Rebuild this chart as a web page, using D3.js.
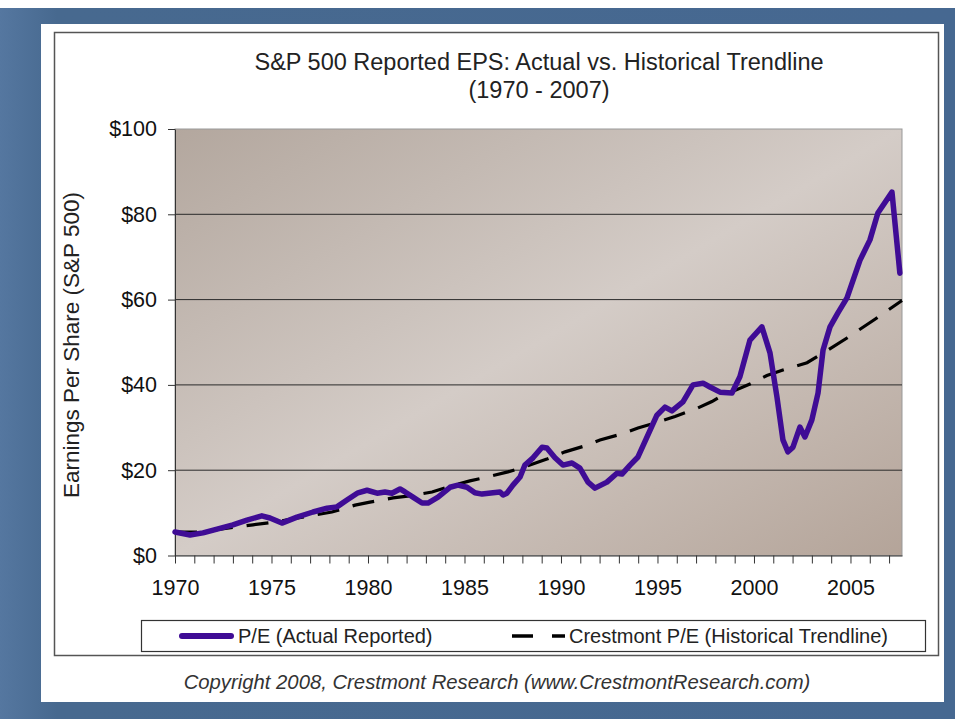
<!DOCTYPE html>
<html lang="en">
<head>
<meta charset="utf-8">
<title>S&amp;P 500 Reported EPS</title>
<script src="https://d3js.org/d3.v7.min.js"></script>
<style>
  body { margin: 0; background: #fff; }
  svg text { font-family: "Liberation Sans", Arial, sans-serif; }
</style>
</head>
<body>
<script>
// Width and height
var w = 955;
var h = 719;

// Reported EPS (year, dollars)
var epsYears = [1970.0, 1970.78, 1971.45, 1972.18, 1973.0, 1973.73, 1974.5, 1974.92, 1975.54, 1976.32,
  1977.15, 1977.88, 1978.39, 1978.91, 1979.48, 1979.95, 1980.47, 1980.88, 1981.24, 1981.66,
  1981.92, 1982.33, 1982.8, 1983.11, 1983.63, 1984.25, 1984.66, 1985.13, 1985.54, 1985.91,
  1986.48, 1986.84, 1987.0, 1987.2, 1987.51, 1987.88, 1988.13, 1988.55, 1989.02, 1989.27,
  1989.69, 1990.1, 1990.57, 1990.98, 1991.4, 1991.76, 1992.38, 1992.9, 1993.16, 1993.58,
  1993.99, 1994.46, 1994.97, 1995.39, 1995.75, 1996.32, 1996.84, 1997.36, 1997.72, 1998.24,
  1998.86, 1999.27, 1999.79, 2000.41, 2000.83, 2001.19, 2001.5, 2001.76, 2002.02, 2002.38,
  2002.64, 2003.0, 2003.32, 2003.58, 2003.94, 2004.35, 2004.82, 2005.49, 2006.01, 2006.42,
  2007.15, 2007.56];
var epsValues = [5.5, 4.8, 5.3, 6.2, 7.2, 8.3, 9.3, 8.8, 7.6, 9.0,
  10.2, 11.1, 11.4, 13.0, 14.7, 15.3, 14.6, 14.9, 14.6, 15.6,
  14.9, 13.7, 12.3, 12.3, 13.7, 16.0, 16.5, 16.0, 14.7, 14.4,
  14.7, 14.9, 14.2, 14.6, 16.5, 18.4, 21.2, 22.9, 25.4, 25.2,
  22.9, 21.2, 21.7, 20.5, 17.2, 15.8, 17.2, 19.3, 19.1, 21.2,
  23.1, 27.8, 32.9, 34.8, 33.9, 36.0, 40.0, 40.4, 39.5, 38.3,
  38.1, 41.9, 50.5, 53.6, 47.5, 37.2, 27.1, 24.3, 25.4, 30.1,
  27.8, 31.8, 38.1, 48.2, 53.6, 56.9, 60.4, 69.2, 74.0, 80.3,
  85.2, 66.2];

// Crestmont historical trendline
var trendYears = [1970.0, 1971.14, 1972.07, 1973.21, 1974.04, 1975.28, 1976.06, 1977.25, 1978.13, 1979.33,
  1980.1, 1981.3, 1982.18, 1983.32, 1984.15, 1985.28, 1986.17, 1987.25, 1988.13, 1989.27,
  1990.21, 1991.24, 1992.02, 1993.16, 1993.99, 1995.03, 1995.91, 1997.05, 1997.82, 1998.24,
  1999.79, 2000.67, 2001.5, 2002.75, 2003.42, 2004.82, 2006.27, 2007.67];
var trendValues = [5.5, 5.5, 6.0, 6.7, 7.2, 7.9, 8.6, 9.5, 10.2, 11.8,
  12.5, 13.5, 14.0, 14.9, 16.1, 17.5, 18.4, 19.6, 20.8, 22.6,
  24.3, 25.7, 27.1, 28.5, 29.9, 31.3, 32.6, 34.5, 36.1, 37.2,
  40.2, 42.2, 43.5, 45.2, 47.0, 51.0, 55.4, 59.8];

var yTicks = [0, 20, 40, 60, 80, 100];
var gridValues = [20, 40, 60, 80];
var tickYears = d3.range(1970, 2008);
var legendLabels = ["P/E (Actual Reported)", "Crestmont P/E (Historical Trendline)"];

var x = d3.scaleLinear().domain([1970, 2007.67]).range([175, 902]);
var y = d3.scaleLinear().domain([0, 100]).range([555.5, 129]);

var svg = d3.select("body")
  .append("svg")
  .attr("width", w)
  .attr("height", h);

var defs = svg.append("defs");
var grad = defs.append("linearGradient")
  .attr("id", "plotbg")
  .attr("x1", 0).attr("y1", 0).attr("x2", 1).attr("y2", 1);
grad.append("stop").attr("offset", "0%").attr("stop-color", "#b3a79e");
grad.append("stop").attr("offset", "50%").attr("stop-color", "#d4ccc7");
grad.append("stop").attr("offset", "100%").attr("stop-color", "#b4a499");

var slide = defs.append("linearGradient")
  .attr("id", "slidebg")
  .attr("x1", 0).attr("y1", 0).attr("x2", 1).attr("y2", 0);
slide.append("stop").attr("offset", "0%").attr("stop-color", "#5577a0");
slide.append("stop").attr("offset", "6%").attr("stop-color", "#47698f");
slide.append("stop").attr("offset", "100%").attr("stop-color", "#466891");

// slide and white panel
svg.append("rect").attr("x", 0).attr("y", 8).attr("width", w).attr("height", h - 8)
  .attr("fill", "url(#slidebg)");
svg.append("rect").attr("x", 41).attr("y", 24).attr("width", 903).attr("height", 678)
  .attr("fill", "#fff");
svg.append("rect").attr("x", 54.5).attr("y", 32.5).attr("width", 884).attr("height", 623)
  .attr("fill", "none").attr("stroke", "#555").attr("stroke-width", 1.5);

// title
svg.append("text").attr("x", 539).attr("y", 70).attr("text-anchor", "middle")
  .attr("font-size", "23.5px").attr("fill", "#222")
  .text("S&P 500 Reported EPS: Actual vs. Historical Trendline");
svg.append("text").attr("x", 539).attr("y", 98).attr("text-anchor", "middle")
  .attr("font-size", "23.5px").attr("fill", "#222")
  .text("(1970 - 2007)");

// plot area
svg.append("rect")
  .attr("x", x(1970)).attr("y", y(100))
  .attr("width", x(2007.67) - x(1970)).attr("height", y(0) - y(100))
  .attr("fill", "url(#plotbg)").attr("stroke", "#999").attr("stroke-width", 1);

svg.selectAll("line.grid")
  .data(gridValues)
  .enter()
  .append("line")
  .attr("class", "grid")
  .attr("x1", x(1970)).attr("x2", x(2007.67))
  .attr("y1", function(d) { return y(d); })
  .attr("y2", function(d) { return y(d); })
  .attr("stroke", "#2a2a2a").attr("stroke-width", 1);

// axes
var yAxis = svg.append("g")
  .attr("transform", "translate(" + x(1970) + ",0)")
  .call(d3.axisLeft(y).tickValues(yTicks).tickSize(7).tickSizeOuter(0).tickPadding(11)
    .tickFormat(function(d) { return "$" + d; }));
yAxis.selectAll("text").attr("font-size", "21.5px").attr("fill", "#111")
  .attr("font-family", "Liberation Sans, Arial, sans-serif");
yAxis.selectAll("line, path").attr("stroke", "#333");

var xAxis = svg.append("g")
  .attr("transform", "translate(0," + y(0) + ")")
  .call(d3.axisBottom(x).tickValues(tickYears).tickSize(8).tickSizeOuter(0).tickPadding(16)
    .tickFormat(function(d) { return d % 5 === 0 ? d : ""; }));
xAxis.selectAll("text").attr("font-size", "21.5px").attr("fill", "#111")
  .attr("font-family", "Liberation Sans, Arial, sans-serif");
xAxis.selectAll("line, path").attr("stroke", "#333");

svg.append("text")
  .attr("transform", "translate(79,345) rotate(-90)")
  .attr("text-anchor", "middle")
  .attr("font-size", "22.5px").attr("fill", "#222")
  .text("Earnings Per Share (S&P 500)");

// series
var line = d3.line()
  .x(function(d) { return x(d[0]); })
  .y(function(d) { return y(d[1]); });

svg.append("path")
  .datum(trendYears.map(function(d, i) { return [d, trendValues[i]]; }))
  .attr("d", line)
  .attr("fill", "none")
  .attr("stroke", "#000")
  .attr("stroke-width", 3.2)
  .attr("stroke-dasharray", "22,14");

svg.append("path")
  .datum(epsYears.map(function(d, i) { return [d, epsValues[i]]; }))
  .attr("d", line)
  .attr("fill", "none")
  .attr("stroke", "#3f0c95")
  .attr("stroke-width", 5.5)
  .attr("stroke-linejoin", "round")
  .attr("stroke-linecap", "round");

// legend
svg.append("rect").attr("x", 141.5).attr("y", 620.5).attr("width", 784).attr("height", 31)
  .attr("fill", "#fff").attr("stroke", "#333").attr("stroke-width", 1.2);
svg.append("line").attr("x1", 182).attr("x2", 231).attr("y1", 636).attr("y2", 636)
  .attr("stroke", "#3f0c95").attr("stroke-width", 6).attr("stroke-linecap", "round");
svg.append("text").attr("x", 238).attr("y", 643).attr("font-size", "20px").attr("fill", "#222")
  .text(legendLabels[0]);
svg.append("line").attr("x1", 512).attr("x2", 565).attr("y1", 636).attr("y2", 636)
  .attr("stroke", "#000").attr("stroke-width", 3.5).attr("stroke-dasharray", "21,19");
svg.append("text").attr("x", 569).attr("y", 643).attr("font-size", "20px").attr("fill", "#222")
  .text(legendLabels[1]);

// copyright
svg.append("text").attr("x", 497).attr("y", 689).attr("text-anchor", "middle")
  .attr("font-size", "20.3px").attr("font-style", "italic").attr("fill", "#333")
  .text("Copyright 2008, Crestmont Research (www.CrestmontResearch.com)");
</script>
</body>
</html>
